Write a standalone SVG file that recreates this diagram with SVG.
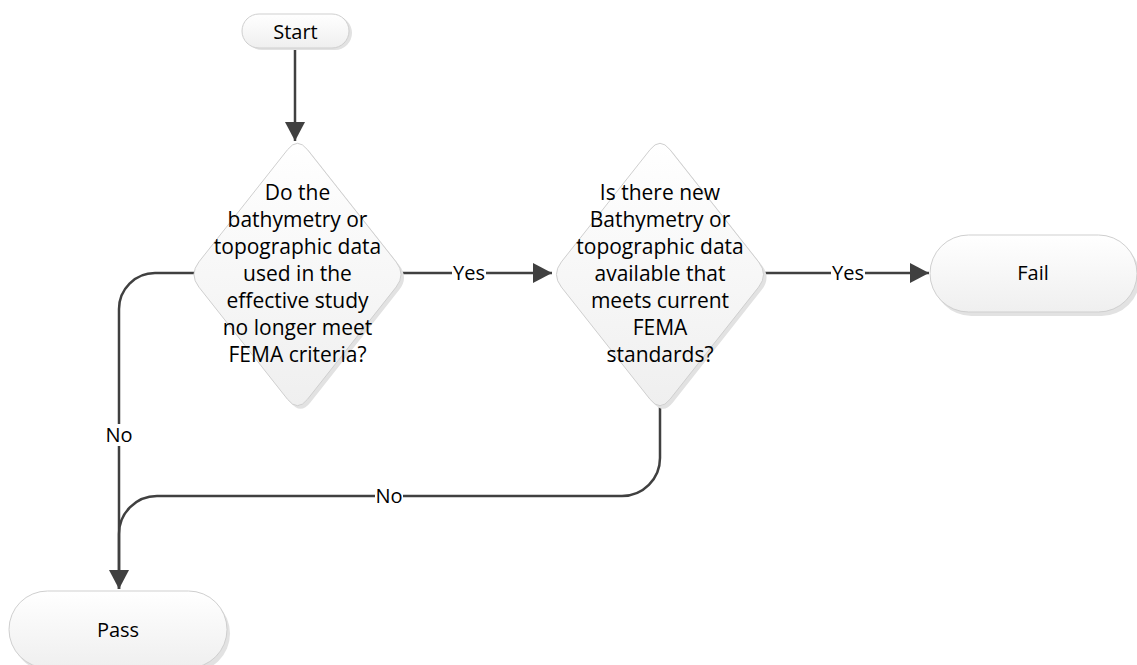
<svg xmlns="http://www.w3.org/2000/svg" width="1137" height="665" viewBox="0 0 1137 665">
  <defs>
    <linearGradient id="fillg" x1="0" y1="0" x2="0" y2="1">
      <stop offset="0" stop-color="#ffffff"/>
      <stop offset="1" stop-color="#efefef"/>
    </linearGradient>
    <path id="dia" d="M-9.9,-124.9 Q0,-137.5 9.9,-124.9 L98.6,-12.6 Q108.5,0 98.6,12.6 L9.9,124.9 Q0,137.5 -9.9,124.9 L-98.6,12.6 Q-108.5,0 -98.6,-12.6 Z"/>
    <marker id="arr" viewBox="0 0 20 20" markerWidth="20" markerHeight="20" refX="19" refY="10" orient="auto" markerUnits="userSpaceOnUse">
      <path d="M0,0 L19,10 L0,20 Z" fill="#404040"/>
    </marker>
  </defs>
  <style>
    .shape { fill: url(#fillg); stroke: #cfcfcf; stroke-width: 1; }
    .shadow { fill: #e2e2e2; stroke: none; }
    .txt { font-family: "Open Sans", "Liberation Sans", sans-serif; font-size: 21px; fill: #000; text-anchor: middle; }
    .lbl { font-family: "Open Sans", "Liberation Sans", sans-serif; font-size: 20px; fill: #000; text-anchor: middle; }
    .conn { fill: none; stroke: #404040; stroke-width: 2.5; }
    .lblbg { fill: #ffffff; }
  </style>
  <rect width="1137" height="665" fill="#ffffff"/>

  <g id="connectors">
    <path class="conn" d="M295,50 V141" marker-end="url(#arr)"/>
    <path class="conn" d="M401,273 H552" marker-end="url(#arr)"/>
    <path class="conn" d="M764,273 H929" marker-end="url(#arr)"/>
    <path class="conn" d="M194,273 H155 A36,36 0 0 0 119,309 V589" marker-end="url(#arr)"/>
    <path class="conn" d="M660,406 V458 A38,38 0 0 1 622,496 H157 A38,38 0 0 0 119,534 V589"/>
    <rect class="lblbg" x="452" y="262" width="34" height="22"/>
    <text class="lbl" x="469" y="280">Yes</text>
    <rect class="lblbg" x="831" y="262" width="34" height="22"/>
    <text class="lbl" x="848" y="280">Yes</text>
    <rect class="lblbg" x="105" y="424" width="28" height="22"/>
    <text class="lbl" x="119" y="442">No</text>
    <rect class="lblbg" x="375" y="485" width="28" height="22"/>
    <text class="lbl" x="389" y="503">No</text>
  </g>

  <g id="start">
    <rect class="shadow" x="245" y="16" width="107" height="34" rx="17"/>
    <rect class="shape" x="242" y="14" width="107" height="34" rx="17"/>
    <text class="lbl" x="295.5" y="39">Start</text>
  </g>

  <g id="decision1">
    <use href="#dia" class="shadow" transform="translate(300.5,277.5)"/>
    <use href="#dia" class="shape" transform="translate(297.5,274.5)"/>
    <text class="txt" x="297.5" y="200">Do the</text>
    <text class="txt" x="297.5" y="227">bathymetry or</text>
    <text class="txt" x="297.5" y="254">topographic data</text>
    <text class="txt" x="297.5" y="281">used in the</text>
    <text class="txt" x="297.5" y="308">effective study</text>
    <text class="txt" x="297.5" y="335">no longer meet</text>
    <text class="txt" x="297.5" y="362">FEMA criteria?</text>
  </g>

  <g id="decision2">
    <use href="#dia" class="shadow" transform="translate(663,277.5)"/>
    <use href="#dia" class="shape" transform="translate(660,274.5)"/>
    <text class="txt" x="660" y="200">Is there new</text>
    <text class="txt" x="660" y="227">Bathymetry or</text>
    <text class="txt" x="660" y="254">topographic data</text>
    <text class="txt" x="660" y="281">available that</text>
    <text class="txt" x="660" y="308">meets current</text>
    <text class="txt" x="660" y="335">FEMA</text>
    <text class="txt" x="660" y="362">standards?</text>
  </g>

  <g id="fail">
    <rect class="shadow" x="933" y="239" width="207" height="77" rx="38.5"/>
    <rect class="shape" x="930" y="235" width="207" height="77" rx="38.5"/>
    <text class="lbl" x="1033" y="280">Fail</text>
  </g>

  <g id="pass">
    <rect class="shadow" x="12" y="595" width="218" height="77" rx="38.5"/>
    <rect class="shape" x="9" y="591" width="218" height="77" rx="38.5"/>
    <text class="lbl" x="118" y="637">Pass</text>
  </g>
</svg>
